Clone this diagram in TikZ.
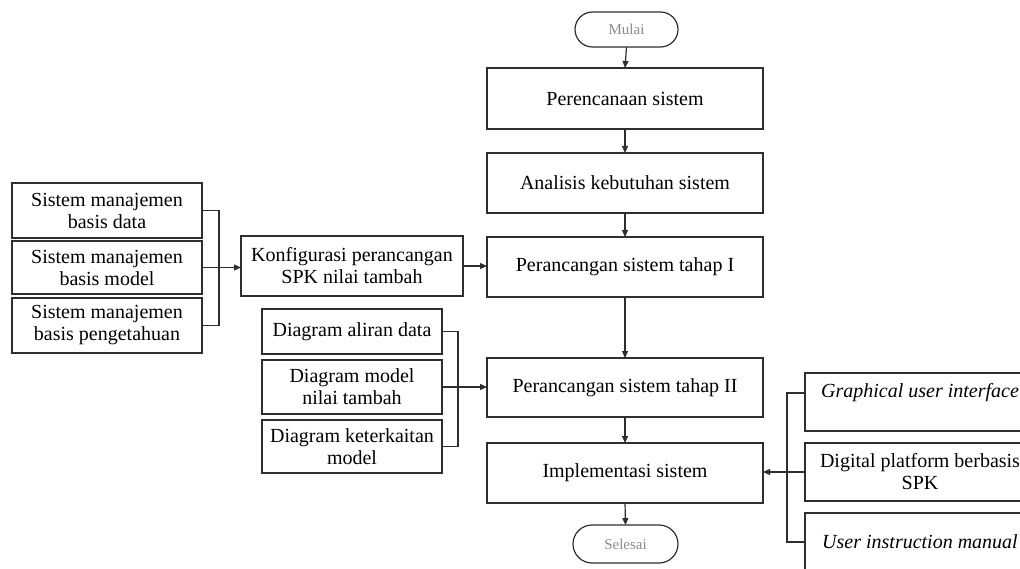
\documentclass[tikz,border=0pt]{standalone}
\usepackage{fontspec}
\setmainfont{Liberation Serif}
\usetikzlibrary{arrows.meta,shapes.misc}
\definecolor{lc}{HTML}{2E2E2E}
\definecolor{tc}{HTML}{8A8A8A}
\newcommand{\fsmain}{\fontsize{20}{22}\selectfont}
\begin{document}
\begin{tikzpicture}[x=1pt,y=-1pt,
  box/.style={draw=lc, line width=1.4pt, inner sep=0pt, outer sep=0pt, align=center, font=\fsmain},
  term/.style={draw=lc, line width=1.2pt, rounded rectangle, inner sep=0pt, outer sep=0pt, font=\fontsize{15}{17}\selectfont, text=tc},
  txt/.style={inner sep=0pt, align=center, font=\fsmain},
  conn/.style={draw=lc, line width=1.2pt},
  arr/.style={conn, -{Triangle[length=7pt,width=6pt]}}]
\useasboundingbox (0,0) rectangle (1020,569);
% main column
\node[term, minimum width=103pt, minimum height=35pt] (mulai) at (626.5,29.5) {Mulai};
\node[box, minimum width=276pt, minimum height=61pt] (p1) at (625,98.5) {Perencanaan sistem};
\node[box, minimum width=276pt, minimum height=60pt] (p2) at (625,183) {Analisis kebutuhan sistem};
\node[box, minimum width=276pt, minimum height=60pt] (p3) at (625,267) {Perancangan sistem tahap I};
\node[box, minimum width=276pt, minimum height=59pt] (p4) at (625,387.5) {Perancangan sistem tahap II};
\node[box, minimum width=276pt, minimum height=60pt] (p5) at (625,473) {Implementasi sistem};
\node[term, minimum width=105pt, minimum height=38pt] (selesai) at (625.5,544) {Selesai};
% left boxes
\node[box, minimum width=190pt, minimum height=55pt] (s1) at (107,210.5) {Sistem manajemen\\basis data};
\node[box, minimum width=190pt, minimum height=53pt] (s2) at (107,267.5) {Sistem manajemen\\basis model};
\node[box, minimum width=190pt, minimum height=55pt] (s3) at (107,325.5) {Sistem manajemen\\basis pengetahuan};
\node[box, minimum width=222pt, minimum height=60pt] (k) at (352,266) {Konfigurasi perancangan\\SPK nilai tambah};
% diagram boxes
\node[box, minimum width=180pt, minimum height=45pt] (d1) at (352,331.5) {Diagram aliran data};
\node[box, minimum width=180pt, minimum height=54pt] (d2) at (352,387) {Diagram model\\nilai tambah};
\node[box, minimum width=180pt, minimum height=53pt] (d3) at (352,446.5) {Diagram keterkaitan\\model};
% right boxes
\node[box, minimum width=230pt, minimum height=58pt] (g1) at (920,402) {};
\node[txt] (g1t) at (920,393) {\itshape Graphical user interface};
\node[box, minimum width=230pt, minimum height=58pt] (g2) at (920,472) {Digital platform berbasis\\SPK};
\node[box, minimum width=230pt, minimum height=58pt] (g3) at (920,542) {\itshape User instruction manual};
% junction coordinates
\coordinate (jl) at (219,0);
\coordinate (jd) at (458,0);
\coordinate (jr) at (787,0);
% main arrows
\draw[arr] (mulai.south) -- (p1.north);
\draw[arr] (p1.south) -- (p2.north);
\draw[arr] (p2.south) -- (p3.north);
\draw[arr] (p3.south) -- (p4.north);
\draw[arr] (p4.south) -- (p5.north);
\draw[arr] (p5.south) -- (selesai.north);
% left group
\draw[conn] (s1.east) -- (jl |- s1.east) -- (jl |- s3.east) -- (s3.east);
\draw[arr] (s2.east) -- (k.west |- s2.east);
\draw[arr] (k.east) -- (p3.west |- k.east);
% diagram group
\draw[conn] (d1.east) -- (jd |- d1.east) -- (jd |- d3.east) -- (d3.east);
\draw[arr] (d2.east) -- (p4.west |- d2.east);
% right group
\draw[conn] (g1.west |- g1t) -- (jr |- g1t) -- (jr |- g3.west) -- (g3.west);
\draw[arr] (g2.west) -- (p5.east |- g2.west);
\end{tikzpicture}
\end{document}
